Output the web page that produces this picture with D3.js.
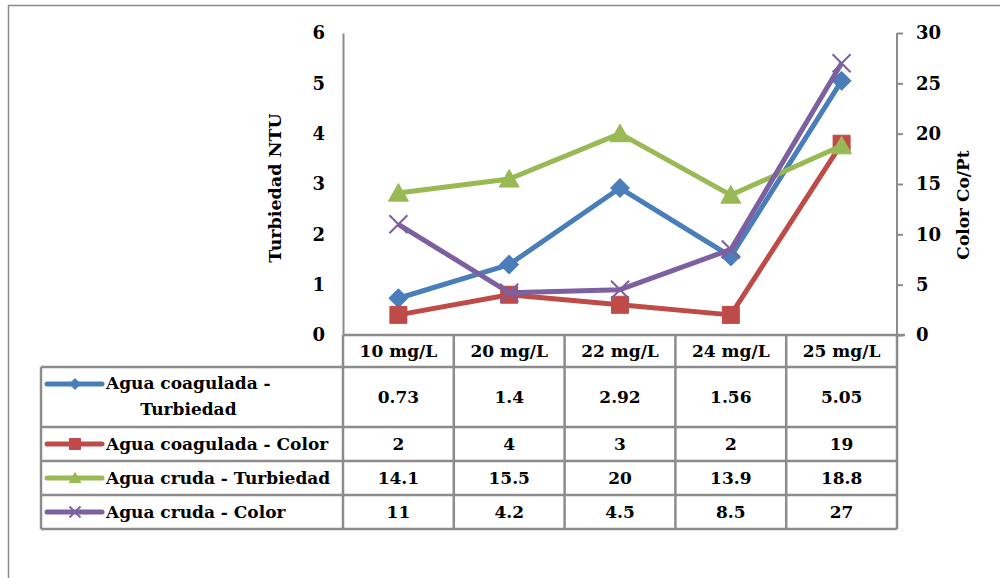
<!DOCTYPE html>
<html>
<head>
<meta charset="utf-8">
<script src="https://d3js.org/d3.v7.min.js"></script>
<style>
  body { margin: 0; background: #fff; }
  text { font-family: "DejaVu Serif", serif; font-weight: bold; fill: #000; }
</style>
</head>
<body>
<script>
// data
var categories = ["10 mg/L", "20 mg/L", "22 mg/L", "24 mg/L", "25 mg/L"];
var coagTurb = [0.73, 1.4, 2.92, 1.56, 5.05];
var coagColor = [2, 4, 3, 2, 19];
var crudaTurb = [14.1, 15.5, 20, 13.9, 18.8];
var crudaColor = [11, 4.2, 4.5, 8.5, 27];
var leftTicks = [0, 1, 2, 3, 4, 5, 6];
var rightTicks = [0, 5, 10, 15, 20, 25, 30];

var series = [
  {name: ["Agua coagulada -", "Turbiedad"], values: coagTurb, axis: "left", color: "#4a7ebb", marker: "diamond"},
  {name: ["Agua coagulada - Color"], values: coagColor, axis: "right", color: "#be4b48", marker: "square"},
  {name: ["Agua cruda - Turbiedad"], values: crudaTurb, axis: "right", color: "#98b954", marker: "triangle"},
  {name: ["Agua cruda - Color"], values: crudaColor, axis: "right", color: "#7d60a0", marker: "x"}
];

var W = 1000, H = 578;
var plot = {left: 343, right: 897, top: 33, bottom: 335};
var tableLeft = 41;
var rowEdges = [335, 367, 427, 461, 495, 529];
var fs = "17px";

var svg = d3.select("body").append("svg").attr("width", W).attr("height", H);

// outer frame
svg.append("rect").attr("x", 8.5).attr("y", 5.5).attr("width", 1000).attr("height", 600)
  .attr("fill", "none").attr("stroke", "#8c8c8c").attr("stroke-width", 1.5);

var x = d3.scaleBand().domain(categories).range([plot.left, plot.right]);
var yL = d3.scaleLinear().domain([0, 6]).range([plot.bottom, plot.top]);
var yR = d3.scaleLinear().domain([0, 30]).range([plot.bottom, plot.top]);
var cx = function(j) { return x(categories[j]) + x.bandwidth() / 2; };

var gridColor = "#8c8c8c";

// left axis
var gl = svg.append("g").attr("transform", "translate(" + plot.left + ",0)")
  .call(d3.axisLeft(yL).tickValues(leftTicks).tickSize(0).tickPadding(18).tickFormat(d3.format("d")));
gl.select(".domain").attr("stroke", gridColor).attr("stroke-width", 2);
gl.selectAll("text").style("font-size", "18px").style("font-family", "DejaVu Serif").style("font-weight", "bold");

// right axis
var gr = svg.append("g").attr("transform", "translate(" + plot.right + ",0)")
  .call(d3.axisRight(yR).tickValues(rightTicks).tickSize(6).tickPadding(13).tickFormat(d3.format("d")));
gr.select(".domain").attr("stroke", gridColor).attr("stroke-width", 2).attr("d", "M0," + plot.top + "V" + plot.bottom);
gr.selectAll(".tick line").attr("stroke", gridColor).attr("stroke-width", 2);
gr.selectAll("text").style("font-size", "18px").style("font-family", "DejaVu Serif").style("font-weight", "bold");

// axis titles
svg.append("text").attr("transform", "translate(281,188) rotate(-90)")
  .attr("text-anchor", "middle").style("font-size", "17.5px").text("Turbiedad NTU");
svg.append("text").attr("transform", "translate(969,205) rotate(-90)")
  .attr("text-anchor", "middle").style("font-size", "17px").text("Color Co/Pt");

// data table grid
var tg = svg.append("g").attr("stroke", gridColor).attr("stroke-width", 2.5).attr("fill", "none");
tg.append("line").attr("x1", plot.left).attr("x2", plot.right + 8).attr("y1", plot.bottom).attr("y2", plot.bottom);
rowEdges.slice(1).forEach(function(y, i) {
  tg.append("line").attr("x1", i === 0 ? tableLeft : tableLeft)
    .attr("x2", plot.right).attr("y1", y).attr("y2", y);
});
var colEdges = [plot.left].concat(categories.map(function(c) { return x(c) + x.bandwidth(); }));
colEdges.forEach(function(ex) {
  tg.append("line").attr("x1", ex).attr("x2", ex).attr("y1", plot.bottom).attr("y2", rowEdges[rowEdges.length - 1]);
});
tg.append("line").attr("x1", tableLeft).attr("x2", tableLeft).attr("y1", rowEdges[1]).attr("y2", rowEdges[rowEdges.length - 1]);

// header labels
svg.append("g").selectAll("text").data(categories).join("text")
  .attr("x", function(d, j) { return cx(j); })
  .attr("y", (rowEdges[0] + rowEdges[1]) / 2 + 6)
  .attr("text-anchor", "middle").style("font-size", fs).text(function(d) { return d; });

// marker shapes
function markerPath(type, s) {
  var h = s / 2;
  if (type === "diamond") return "M0," + (-h) + "L" + h + ",0L0," + h + "L" + (-h) + ",0Z";
  if (type === "square") return "M" + (-h) + "," + (-h) + "H" + h + "V" + h + "H" + (-h) + "Z";
  if (type === "triangle") return "M0," + (-h) + "L" + (h * 1.05) + "," + (h * 0.85) + "L" + (-h * 1.05) + "," + (h * 0.85) + "Z";
  return "M" + (-h) + "," + (-h) + "L" + h + "," + h + "M" + h + "," + (-h) + "L" + (-h) + "," + h;
}
function drawMarker(g, type, color, size) {
  g.append("path").attr("d", markerPath(type, size))
    .attr("fill", type === "x" ? "none" : color)
    .attr("stroke", color).attr("stroke-width", type === "x" ? 2 : 1);
}

// table rows
series.forEach(function(s, i) {
  var y0 = rowEdges[i + 1], y1 = rowEdges[i + 2], ym = (y0 + y1) / 2;
  var ky = i === 0 ? ym - 13 : ym;
  svg.append("line").attr("x1", 47).attr("x2", 102).attr("y1", ky).attr("y2", ky)
    .attr("stroke", s.color).attr("stroke-width", 5).attr("stroke-linecap", "round");
  var kg = svg.append("g").attr("transform", "translate(75," + ky + ")");
  drawMarker(kg, s.marker, s.color, 11);
  if (s.name.length === 1) {
    svg.append("text").attr("x", 106).attr("y", ym + 6).style("font-size", fs).text(s.name[0]);
  } else {
    var t1 = svg.append("text").attr("x", 106).attr("y", ym - 8).style("font-size", fs).text(s.name[0]);
    var w1 = t1.node().getComputedTextLength();
    svg.append("text").attr("x", 106 + w1 / 2).attr("y", ym + 18).attr("text-anchor", "middle")
      .style("font-size", fs).text(s.name[1]);
  }
  svg.append("g").selectAll("text").data(s.values).join("text")
    .attr("x", function(d, j) { return cx(j); })
    .attr("y", ym + 6).attr("text-anchor", "middle").style("font-size", fs)
    .text(function(d) { return d; });
});

// lines and markers
series.forEach(function(s) {
  var y = s.axis === "left" ? yL : yR;
  var line = d3.line().x(function(d, j) { return cx(j); }).y(function(d) { return y(d); });
  var g = svg.append("g");
  g.append("path").datum(s.values).attr("d", line)
    .attr("fill", "none").attr("stroke", s.color).attr("stroke-width", 5).attr("stroke-linejoin", "round");
  s.values.forEach(function(v, j) {
    var mg = g.append("g").attr("transform", "translate(" + cx(j) + "," + y(v) + ")");
    drawMarker(mg, s.marker, s.color, s.marker === "x" ? 18 : (s.marker === "square" ? 17 : 19));
  });
});
</script>
</body>
</html>
